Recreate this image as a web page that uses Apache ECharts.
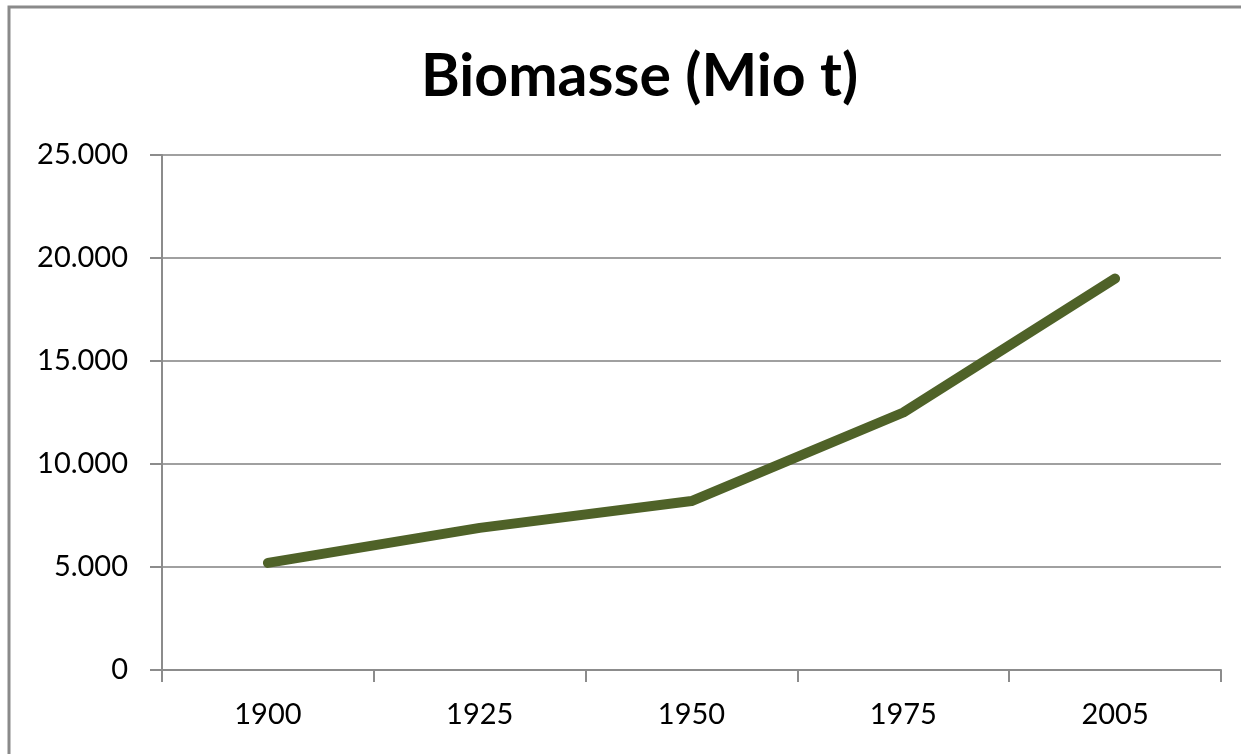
<!DOCTYPE html>
<html>
<head>
<meta charset="utf-8">
<script src="https://cdn.jsdelivr.net/npm/echarts@6/dist/echarts.min.js"></script>
<style>
html,body{margin:0;padding:0;background:#fff;overflow:hidden;}
#chart{width:1241px;height:754px;}
</style>
</head>
<body>
<div id="chart"></div>
<script>
const years = ['1900', '1925', '1950', '1975', '2005'];
const biomass = [5200, 6900, 8200, 12500, 19000];
const yTicks = [0, 5000, 10000, 15000, 20000, 25000];
const titleText = 'Biomasse (Mio t)';

function fmt(v) {
  return String(v).replace(/\B(?=(\d{3})+(?!\d))/g, '.');
}

const chart = echarts.init(document.getElementById('chart'), null, {renderer: 'canvas'});
chart.setOption({
  backgroundColor: '#fff',
  animation: false,
  title: {
    text: titleText,
    left: 416,
    top: 42,
    textStyle: {fontFamily: 'Lato', fontWeight: 'bold', fontSize: 59, color: '#000'}
  },
  graphic: [{
    type: 'rect',
    shape: {x: 9, y: 7, width: 1400, height: 900},
    style: {fill: 'none', stroke: '#8a8a8a', lineWidth: 3},
    silent: true
  }],
  grid: {left: 162, right: 20, top: 155, bottom: 84, containLabel: false},
  xAxis: {
    type: 'category',
    data: years,
    boundaryGap: true,
    axisLine: {show: true, lineStyle: {color: '#8c8c8c', width: 2}},
    axisTick: {show: true, length: 12, inside: false, alignWithLabel: false, lineStyle: {color: '#8c8c8c', width: 2}},
    axisLabel: {margin: 30, fontFamily: 'Lato', fontSize: 29, color: '#000'},
    splitLine: {show: false}
  },
  yAxis: {
    type: 'value',
    min: yTicks[0],
    max: yTicks[yTicks.length - 1],
    interval: 5000,
    axisLine: {show: true, lineStyle: {color: '#8c8c8c', width: 2}},
    axisTick: {show: true, length: 12, inside: false, lineStyle: {color: '#8c8c8c', width: 2}},
    axisLabel: {margin: 34, fontFamily: 'Lato', fontSize: 29, color: '#000', formatter: fmt},
    splitLine: {show: true, lineStyle: {color: '#a0a0a0', width: 2}}
  },
  series: [{
    type: 'line',
    data: biomass,
    showSymbol: false,
    symbol: 'none',
    lineStyle: {color: '#4F6228', width: 10, cap: 'round', join: 'round'}
  }]
});
</script>
</body>
</html>
